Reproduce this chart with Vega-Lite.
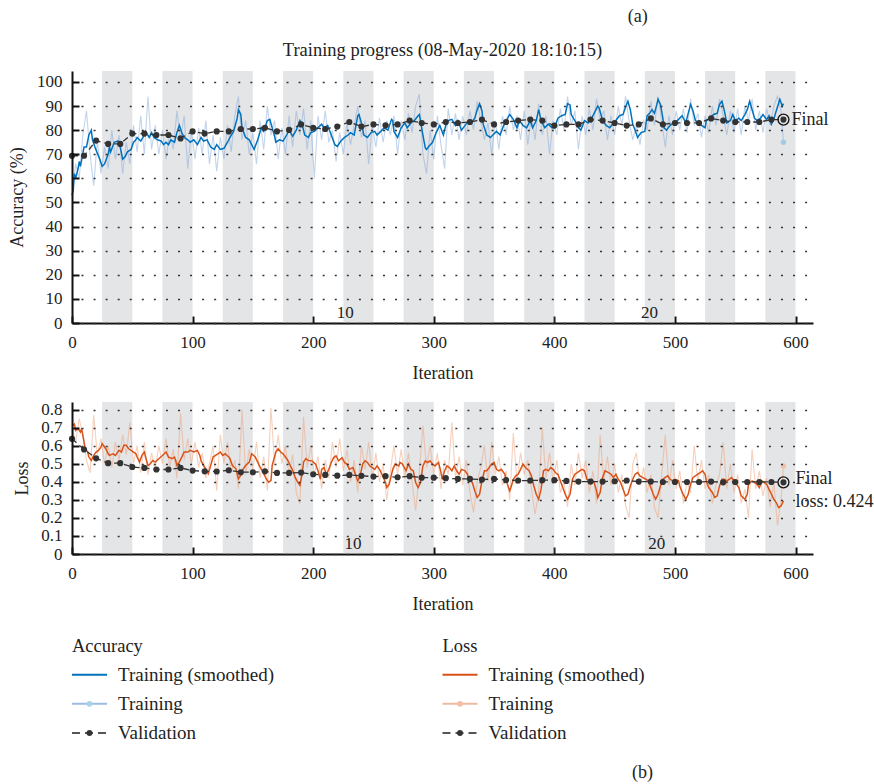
{
"$schema": "https://vega.github.io/schema/vega-lite/v6.json",
"padding": {"left": 8, "top": 7, "right": 0, "bottom": 0},
"background": "white",
"spacing": 17,
"title": {"text": "(a)", "anchor": "start", "dx": 619, "fontSize": 18, "fontWeight": "normal", "color": "#222", "offset": 15},
"config": {
  "font": "Liberation Serif",
  "view": {"stroke": null},
  "title": {"font": "Liberation Serif", "fontSize": 18, "fontWeight": "normal", "color": "#222"},
  "axis": {"domainColor": "#111", "domainWidth": 2, "tickColor": "#111", "tickWidth": 2, "tickSize": -7,
    "labelFont": "Liberation Serif", "labelFontSize": 17, "labelColor": "#222", "labelFlush": false, "labelOverlap": false,
    "titleFont": "Liberation Serif", "titleFontSize": 18, "titleFontWeight": "normal", "titleColor": "#222",
    "gridColor": "#333", "gridWidth": 1.6, "gridDash": [2, 10.06], "gridDashOffset": 3.06, "zindex": 1},
  "axisX": {"grid": false, "labelPadding": 18, "titlePadding": 14.3},
  "axisY": {"grid": true, "labelPadding": 17, "titlePadding": 9.7}
},
"datasets": {
  "bands": [{"i":25,"i2":50},{"i":75,"i2":100},{"i":125,"i2":150},{"i":175,"i2":200},{"i":225,"i2":250},{"i":275,"i2":300},{"i":325,"i2":350},{"i":375,"i2":400},{"i":425,"i2":450},{"i":475,"i2":500},{"i":525,"i2":550},{"i":575,"i2":600}],
  "epochsA": [{"i":226.6,"t":"10"},{"i":479,"t":"20"}],
  "epochsL": [{"i":233,"t":"10"},{"i":485,"t":"20"}],
  "accS": [{"i":0,"v":53},{"i":1,"v":55},{"i":2,"v":62},{"i":3,"v":60},{"i":5,"v":64},{"i":6,"v":67},{"i":7,"v":65},{"i":10,"v":73},{"i":12,"v":73},{"i":14,"v":78},{"i":16,"v":80},{"i":17,"v":76},{"i":19,"v":73},{"i":23,"v":68},{"i":25,"v":65},{"i":27,"v":66},{"i":30,"v":70},{"i":31,"v":73},{"i":32,"v":71},{"i":35,"v":75},{"i":38,"v":75.5},{"i":40,"v":73},{"i":42,"v":68},{"i":44,"v":69},{"i":46,"v":71},{"i":49,"v":72},{"i":51,"v":75},{"i":53,"v":76},{"i":54,"v":77},{"i":57,"v":75.5},{"i":60,"v":78},{"i":61,"v":79.5},{"i":64,"v":77},{"i":66,"v":79},{"i":68,"v":77},{"i":71,"v":76},{"i":74,"v":75.5},{"i":76,"v":74},{"i":78,"v":75},{"i":80,"v":74},{"i":82,"v":76},{"i":85,"v":75},{"i":87,"v":79},{"i":89,"v":82},{"i":91,"v":79},{"i":93,"v":77},{"i":96,"v":76},{"i":98,"v":75},{"i":101,"v":76},{"i":104,"v":74},{"i":107,"v":77},{"i":109,"v":75.5},{"i":112,"v":76},{"i":115,"v":73},{"i":118,"v":72},{"i":120,"v":74},{"i":123,"v":72},{"i":126,"v":72.5},{"i":129,"v":75},{"i":131,"v":77},{"i":134,"v":79.5},{"i":137,"v":85},{"i":138,"v":88.5},{"i":140,"v":86.5},{"i":141,"v":81},{"i":144,"v":77},{"i":147,"v":76},{"i":149,"v":74},{"i":151,"v":72},{"i":154,"v":76},{"i":157,"v":81},{"i":159,"v":79.5},{"i":162,"v":84},{"i":164,"v":84.5},{"i":166,"v":81},{"i":168,"v":77.5},{"i":169,"v":75},{"i":172,"v":76},{"i":175,"v":75.5},{"i":178,"v":78},{"i":180,"v":80},{"i":183,"v":77.5},{"i":186,"v":80},{"i":189,"v":84},{"i":191,"v":82},{"i":193,"v":78},{"i":196,"v":77},{"i":198,"v":79},{"i":201,"v":79.5},{"i":204,"v":81},{"i":207,"v":82.5},{"i":209,"v":81},{"i":212,"v":82},{"i":215,"v":78},{"i":218,"v":74},{"i":220,"v":73.3},{"i":223,"v":75.5},{"i":226,"v":77},{"i":229,"v":78},{"i":231,"v":79},{"i":234,"v":78},{"i":237,"v":86},{"i":238,"v":86.5},{"i":240,"v":83},{"i":242,"v":78},{"i":245,"v":77},{"i":248,"v":79},{"i":251,"v":79.5},{"i":253,"v":78},{"i":256,"v":79.5},{"i":259,"v":81},{"i":262,"v":80},{"i":265,"v":84.5},{"i":266,"v":84},{"i":267,"v":79.5},{"i":270,"v":77},{"i":273,"v":81},{"i":276,"v":83},{"i":278,"v":81},{"i":281,"v":83},{"i":284,"v":84},{"i":287,"v":86},{"i":288,"v":86.5},{"i":289,"v":84},{"i":291,"v":78},{"i":293,"v":72.6},{"i":294,"v":72},{"i":296,"v":73.3},{"i":299,"v":75},{"i":302,"v":79},{"i":305,"v":82},{"i":308,"v":78},{"i":310,"v":82},{"i":312,"v":84},{"i":315,"v":84.5},{"i":318,"v":82},{"i":320,"v":84},{"i":323,"v":80},{"i":326,"v":82},{"i":329,"v":84},{"i":331,"v":83},{"i":334,"v":85},{"i":336,"v":88.5},{"i":338,"v":91},{"i":340,"v":88},{"i":341,"v":82.5},{"i":344,"v":78},{"i":347,"v":77},{"i":349,"v":78},{"i":352,"v":79.5},{"i":355,"v":78},{"i":358,"v":82},{"i":360,"v":84},{"i":363,"v":86.5},{"i":366,"v":84.5},{"i":369,"v":81},{"i":371,"v":84},{"i":374,"v":82},{"i":377,"v":81},{"i":380,"v":84},{"i":382,"v":81},{"i":385,"v":84},{"i":387,"v":88.5},{"i":389,"v":84},{"i":392,"v":81},{"i":395,"v":82.5},{"i":398,"v":81},{"i":400,"v":81},{"i":403,"v":85},{"i":406,"v":86},{"i":409,"v":86.5},{"i":411,"v":91},{"i":413,"v":90.5},{"i":414,"v":86.5},{"i":417,"v":84},{"i":420,"v":81},{"i":422,"v":80},{"i":425,"v":84},{"i":428,"v":83},{"i":431,"v":85},{"i":433,"v":87},{"i":436,"v":90},{"i":437,"v":89.5},{"i":440,"v":84},{"i":443,"v":82},{"i":446,"v":81},{"i":449,"v":83},{"i":451,"v":84},{"i":454,"v":86},{"i":457,"v":86.5},{"i":459,"v":89.5},{"i":461,"v":92},{"i":463,"v":88.5},{"i":465,"v":82.5},{"i":467,"v":80},{"i":469,"v":77},{"i":472,"v":79},{"i":475,"v":79.5},{"i":477,"v":86},{"i":479,"v":87},{"i":481,"v":88.5},{"i":483,"v":87},{"i":485,"v":90.7},{"i":486,"v":92.8},{"i":488,"v":90.7},{"i":490,"v":85},{"i":491,"v":81},{"i":493,"v":80},{"i":496,"v":82},{"i":499,"v":83},{"i":502,"v":84},{"i":504,"v":85},{"i":506,"v":86},{"i":509,"v":83},{"i":511,"v":87},{"i":513,"v":90.7},{"i":515,"v":88},{"i":517,"v":84},{"i":520,"v":83},{"i":522,"v":82},{"i":525,"v":81},{"i":526,"v":84},{"i":529,"v":85},{"i":532,"v":86.5},{"i":535,"v":87},{"i":537,"v":90.7},{"i":539,"v":92},{"i":541,"v":88},{"i":543,"v":83},{"i":546,"v":84},{"i":548,"v":86.5},{"i":550,"v":84},{"i":553,"v":85},{"i":555,"v":84},{"i":558,"v":86.5},{"i":560,"v":88.5},{"i":562,"v":92},{"i":564,"v":88.5},{"i":566,"v":85},{"i":568,"v":84},{"i":571,"v":85},{"i":573,"v":86.5},{"i":576,"v":84.5},{"i":578,"v":86},{"i":580,"v":82.5},{"i":582,"v":84.5},{"i":584,"v":88},{"i":587,"v":92.8},{"i":589,"v":90},{"i":590,"v":91}],
  "accR": [{"i":0,"v":52},{"i":3,"v":66},{"i":6,"v":60},{"i":9,"v":78},{"i":12,"v":88},{"i":15,"v":70},{"i":18,"v":57},{"i":21,"v":76},{"i":24,"v":62},{"i":27,"v":73},{"i":30,"v":64},{"i":33,"v":80},{"i":36,"v":68},{"i":39,"v":78},{"i":42,"v":62},{"i":45,"v":75},{"i":48,"v":66},{"i":51,"v":82},{"i":54,"v":71},{"i":57,"v":86},{"i":60,"v":70},{"i":63,"v":94},{"i":66,"v":72},{"i":69,"v":82},{"i":72,"v":70},{"i":75,"v":80},{"i":78,"v":68},{"i":81,"v":79},{"i":84,"v":72},{"i":87,"v":88},{"i":90,"v":76},{"i":93,"v":86},{"i":96,"v":64},{"i":99,"v":80},{"i":102,"v":68},{"i":105,"v":81},{"i":108,"v":70},{"i":111,"v":84},{"i":114,"v":66},{"i":117,"v":78},{"i":120,"v":63},{"i":123,"v":77},{"i":126,"v":68},{"i":129,"v":82},{"i":132,"v":71},{"i":135,"v":86},{"i":138,"v":94},{"i":141,"v":76},{"i":144,"v":84},{"i":147,"v":70},{"i":150,"v":79},{"i":153,"v":66},{"i":156,"v":84},{"i":159,"v":72},{"i":162,"v":90},{"i":165,"v":78},{"i":168,"v":84},{"i":171,"v":68},{"i":174,"v":81},{"i":177,"v":70},{"i":180,"v":86},{"i":183,"v":73},{"i":186,"v":88},{"i":189,"v":78},{"i":192,"v":89},{"i":195,"v":72},{"i":198,"v":84},{"i":201,"v":60},{"i":204,"v":86},{"i":207,"v":76},{"i":210,"v":88},{"i":213,"v":75},{"i":216,"v":80},{"i":219,"v":67},{"i":222,"v":79},{"i":225,"v":70},{"i":228,"v":83},{"i":231,"v":74},{"i":234,"v":82},{"i":237,"v":90},{"i":240,"v":77},{"i":243,"v":84},{"i":246,"v":66},{"i":249,"v":82},{"i":252,"v":73},{"i":255,"v":85},{"i":258,"v":75},{"i":261,"v":84},{"i":264,"v":78},{"i":267,"v":86},{"i":270,"v":70},{"i":273,"v":84},{"i":276,"v":76},{"i":279,"v":87},{"i":282,"v":79},{"i":285,"v":90},{"i":288,"v":95},{"i":291,"v":70},{"i":294,"v":62},{"i":297,"v":80},{"i":300,"v":68},{"i":303,"v":86},{"i":306,"v":74},{"i":309,"v":64},{"i":312,"v":89},{"i":315,"v":78},{"i":318,"v":87},{"i":321,"v":76},{"i":324,"v":86},{"i":327,"v":78},{"i":330,"v":88},{"i":333,"v":80},{"i":336,"v":92},{"i":339,"v":84},{"i":342,"v":76},{"i":345,"v":83},{"i":348,"v":70},{"i":351,"v":84},{"i":354,"v":72},{"i":357,"v":86},{"i":360,"v":78},{"i":363,"v":90},{"i":366,"v":80},{"i":369,"v":86},{"i":372,"v":76},{"i":375,"v":88},{"i":378,"v":74},{"i":381,"v":86},{"i":384,"v":76},{"i":387,"v":91},{"i":390,"v":78},{"i":393,"v":86},{"i":396,"v":70},{"i":399,"v":84},{"i":402,"v":78},{"i":405,"v":89},{"i":408,"v":80},{"i":411,"v":94},{"i":414,"v":82},{"i":417,"v":88},{"i":420,"v":72},{"i":423,"v":86},{"i":426,"v":78},{"i":429,"v":89},{"i":432,"v":80},{"i":435,"v":93},{"i":438,"v":84},{"i":441,"v":88},{"i":444,"v":76},{"i":447,"v":86},{"i":450,"v":78},{"i":453,"v":90},{"i":456,"v":82},{"i":459,"v":94},{"i":462,"v":84},{"i":465,"v":76},{"i":468,"v":82},{"i":471,"v":74},{"i":474,"v":84},{"i":477,"v":80},{"i":480,"v":92},{"i":483,"v":82},{"i":486,"v":94},{"i":489,"v":84},{"i":492,"v":73},{"i":495,"v":86},{"i":498,"v":78},{"i":501,"v":88},{"i":504,"v":80},{"i":507,"v":89},{"i":510,"v":79},{"i":513,"v":93},{"i":516,"v":82},{"i":519,"v":87},{"i":522,"v":77},{"i":525,"v":86},{"i":528,"v":79},{"i":531,"v":90},{"i":534,"v":82},{"i":537,"v":93},{"i":540,"v":86},{"i":543,"v":78},{"i":546,"v":88},{"i":549,"v":79},{"i":552,"v":89},{"i":555,"v":78},{"i":558,"v":90},{"i":561,"v":84},{"i":564,"v":93},{"i":567,"v":80},{"i":570,"v":88},{"i":573,"v":79},{"i":576,"v":89},{"i":579,"v":82},{"i":582,"v":90},{"i":585,"v":94},{"i":588,"v":88},{"i":590,"v":75}],
  "accV": [{"i":0,"v":69.4},{"i":10,"v":69.4},{"i":20,"v":75.7},{"i":30,"v":74.3},{"i":40,"v":74.3},{"i":50,"v":78.6},{"i":60,"v":78.6},{"i":70,"v":78},{"i":80,"v":78},{"i":90,"v":76.6},{"i":100,"v":79.5},{"i":110,"v":78.6},{"i":120,"v":79.5},{"i":130,"v":79.5},{"i":140,"v":80.5},{"i":150,"v":80.5},{"i":160,"v":81},{"i":170,"v":79.5},{"i":180,"v":80.1},{"i":190,"v":82.4},{"i":200,"v":81},{"i":210,"v":80.5},{"i":220,"v":81.5},{"i":230,"v":83.4},{"i":240,"v":81.5},{"i":250,"v":82.4},{"i":260,"v":82},{"i":270,"v":82.4},{"i":280,"v":84},{"i":290,"v":83},{"i":300,"v":82.4},{"i":310,"v":83.4},{"i":320,"v":83},{"i":330,"v":83.4},{"i":340,"v":84.4},{"i":350,"v":82.4},{"i":360,"v":83.4},{"i":370,"v":84},{"i":380,"v":84.4},{"i":390,"v":84},{"i":400,"v":81.9},{"i":410,"v":82.4},{"i":420,"v":82.4},{"i":430,"v":84.4},{"i":440,"v":84},{"i":450,"v":83},{"i":460,"v":81.9},{"i":470,"v":82.4},{"i":480,"v":84.9},{"i":490,"v":82.4},{"i":500,"v":83},{"i":510,"v":83},{"i":520,"v":83},{"i":530,"v":84.9},{"i":540,"v":84},{"i":550,"v":83.4},{"i":560,"v":83.4},{"i":570,"v":83.4},{"i":580,"v":84.4},{"i":590,"v":84.4}],
  "lossS": [{"i":0,"v":0.71},{"i":2,"v":0.72},{"i":3,"v":0.685},{"i":5,"v":0.695},{"i":7,"v":0.675},{"i":8,"v":0.695},{"i":9,"v":0.657},{"i":11,"v":0.583},{"i":13,"v":0.565},{"i":14,"v":0.537},{"i":16,"v":0.518},{"i":18,"v":0.546},{"i":20,"v":0.565},{"i":22,"v":0.574},{"i":24,"v":0.592},{"i":25,"v":0.611},{"i":28,"v":0.583},{"i":30,"v":0.555},{"i":31,"v":0.546},{"i":34,"v":0.555},{"i":36,"v":0.546},{"i":39,"v":0.574},{"i":41,"v":0.565},{"i":43,"v":0.602},{"i":45,"v":0.602},{"i":47,"v":0.583},{"i":49,"v":0.574},{"i":51,"v":0.565},{"i":53,"v":0.555},{"i":54,"v":0.537},{"i":56,"v":0.509},{"i":58,"v":0.546},{"i":60,"v":0.565},{"i":61,"v":0.537},{"i":63,"v":0.49},{"i":65,"v":0.5},{"i":67,"v":0.518},{"i":69,"v":0.509},{"i":72,"v":0.528},{"i":75,"v":0.546},{"i":78,"v":0.565},{"i":80,"v":0.537},{"i":83,"v":0.528},{"i":85,"v":0.537},{"i":86,"v":0.518},{"i":87,"v":0.49},{"i":89,"v":0.509},{"i":91,"v":0.537},{"i":93,"v":0.565},{"i":96,"v":0.565},{"i":98,"v":0.574},{"i":101,"v":0.565},{"i":104,"v":0.574},{"i":106,"v":0.546},{"i":107,"v":0.518},{"i":109,"v":0.49},{"i":111,"v":0.472},{"i":113,"v":0.445},{"i":115,"v":0.49},{"i":117,"v":0.537},{"i":119,"v":0.546},{"i":121,"v":0.555},{"i":123,"v":0.565},{"i":125,"v":0.546},{"i":127,"v":0.555},{"i":130,"v":0.537},{"i":131,"v":0.528},{"i":133,"v":0.49},{"i":136,"v":0.472},{"i":138,"v":0.417},{"i":140,"v":0.435},{"i":142,"v":0.472},{"i":144,"v":0.49},{"i":147,"v":0.509},{"i":149,"v":0.555},{"i":152,"v":0.537},{"i":154,"v":0.509},{"i":156,"v":0.481},{"i":159,"v":0.445},{"i":161,"v":0.417},{"i":163,"v":0.398},{"i":165,"v":0.407},{"i":166,"v":0.49},{"i":169,"v":0.565},{"i":171,"v":0.583},{"i":173,"v":0.565},{"i":175,"v":0.555},{"i":177,"v":0.537},{"i":179,"v":0.518},{"i":181,"v":0.49},{"i":183,"v":0.463},{"i":185,"v":0.426},{"i":187,"v":0.4},{"i":189,"v":0.38},{"i":191,"v":0.45},{"i":192,"v":0.509},{"i":194,"v":0.528},{"i":196,"v":0.518},{"i":199,"v":0.516},{"i":202,"v":0.498},{"i":204,"v":0.461},{"i":206,"v":0.414},{"i":207,"v":0.469},{"i":209,"v":0.479},{"i":211,"v":0.442},{"i":213,"v":0.469},{"i":215,"v":0.507},{"i":217,"v":0.534},{"i":219,"v":0.544},{"i":221,"v":0.516},{"i":224,"v":0.534},{"i":226,"v":0.507},{"i":228,"v":0.498},{"i":230,"v":0.469},{"i":233,"v":0.479},{"i":235,"v":0.442},{"i":237,"v":0.405},{"i":239,"v":0.433},{"i":241,"v":0.498},{"i":243,"v":0.516},{"i":245,"v":0.507},{"i":247,"v":0.488},{"i":249,"v":0.479},{"i":251,"v":0.469},{"i":253,"v":0.488},{"i":255,"v":0.469},{"i":257,"v":0.442},{"i":260,"v":0.396},{"i":261,"v":0.368},{"i":263,"v":0.386},{"i":266,"v":0.469},{"i":268,"v":0.498},{"i":271,"v":0.488},{"i":272,"v":0.507},{"i":274,"v":0.498},{"i":277,"v":0.461},{"i":279,"v":0.498},{"i":281,"v":0.469},{"i":283,"v":0.461},{"i":285,"v":0.396},{"i":287,"v":0.368},{"i":289,"v":0.396},{"i":291,"v":0.488},{"i":293,"v":0.516},{"i":295,"v":0.507},{"i":297,"v":0.516},{"i":299,"v":0.498},{"i":301,"v":0.488},{"i":304,"v":0.507},{"i":306,"v":0.451},{"i":307,"v":0.414},{"i":309,"v":0.461},{"i":311,"v":0.488},{"i":313,"v":0.479},{"i":315,"v":0.461},{"i":317,"v":0.488},{"i":319,"v":0.461},{"i":321,"v":0.442},{"i":323,"v":0.469},{"i":326,"v":0.461},{"i":328,"v":0.442},{"i":329,"v":0.414},{"i":332,"v":0.396},{"i":334,"v":0.35},{"i":336,"v":0.313},{"i":338,"v":0.331},{"i":340,"v":0.405},{"i":342,"v":0.461},{"i":344,"v":0.461},{"i":346,"v":0.479},{"i":348,"v":0.498},{"i":350,"v":0.507},{"i":352,"v":0.469},{"i":354,"v":0.461},{"i":356,"v":0.469},{"i":359,"v":0.442},{"i":361,"v":0.387},{"i":363,"v":0.35},{"i":364,"v":0.368},{"i":366,"v":0.414},{"i":368,"v":0.433},{"i":370,"v":0.442},{"i":372,"v":0.469},{"i":374,"v":0.498},{"i":376,"v":0.479},{"i":379,"v":0.461},{"i":381,"v":0.433},{"i":383,"v":0.377},{"i":385,"v":0.331},{"i":387,"v":0.303},{"i":389,"v":0.359},{"i":391,"v":0.461},{"i":393,"v":0.469},{"i":395,"v":0.461},{"i":397,"v":0.479},{"i":399,"v":0.469},{"i":401,"v":0.45},{"i":403,"v":0.44},{"i":405,"v":0.405},{"i":407,"v":0.368},{"i":409,"v":0.331},{"i":411,"v":0.303},{"i":413,"v":0.331},{"i":415,"v":0.414},{"i":417,"v":0.442},{"i":419,"v":0.451},{"i":421,"v":0.461},{"i":423,"v":0.469},{"i":425,"v":0.461},{"i":427,"v":0.414},{"i":429,"v":0.405},{"i":431,"v":0.414},{"i":433,"v":0.396},{"i":435,"v":0.35},{"i":436,"v":0.313},{"i":438,"v":0.341},{"i":440,"v":0.424},{"i":442,"v":0.461},{"i":445,"v":0.451},{"i":447,"v":0.442},{"i":449,"v":0.424},{"i":451,"v":0.442},{"i":453,"v":0.414},{"i":455,"v":0.396},{"i":457,"v":0.359},{"i":459,"v":0.322},{"i":461,"v":0.331},{"i":463,"v":0.377},{"i":465,"v":0.414},{"i":467,"v":0.442},{"i":469,"v":0.451},{"i":471,"v":0.433},{"i":473,"v":0.424},{"i":476,"v":0.414},{"i":478,"v":0.405},{"i":480,"v":0.368},{"i":482,"v":0.331},{"i":484,"v":0.303},{"i":486,"v":0.331},{"i":488,"v":0.377},{"i":490,"v":0.414},{"i":492,"v":0.424},{"i":494,"v":0.433},{"i":496,"v":0.414},{"i":498,"v":0.405},{"i":500,"v":0.414},{"i":503,"v":0.405},{"i":504,"v":0.377},{"i":506,"v":0.341},{"i":509,"v":0.303},{"i":511,"v":0.331},{"i":513,"v":0.387},{"i":515,"v":0.424},{"i":517,"v":0.433},{"i":519,"v":0.442},{"i":521,"v":0.451},{"i":523,"v":0.461},{"i":525,"v":0.442},{"i":526,"v":0.405},{"i":528,"v":0.368},{"i":531,"v":0.341},{"i":533,"v":0.313},{"i":535,"v":0.322},{"i":537,"v":0.377},{"i":539,"v":0.414},{"i":541,"v":0.414},{"i":543,"v":0.405},{"i":545,"v":0.414},{"i":547,"v":0.424},{"i":549,"v":0.405},{"i":551,"v":0.387},{"i":553,"v":0.368},{"i":555,"v":0.322},{"i":558,"v":0.303},{"i":560,"v":0.331},{"i":561,"v":0.387},{"i":564,"v":0.405},{"i":566,"v":0.396},{"i":568,"v":0.387},{"i":570,"v":0.368},{"i":572,"v":0.405},{"i":574,"v":0.396},{"i":576,"v":0.387},{"i":578,"v":0.359},{"i":580,"v":0.331},{"i":582,"v":0.303},{"i":584,"v":0.285},{"i":586,"v":0.257},{"i":588,"v":0.266},{"i":590,"v":0.294}],
  "lossR": [{"i":0,"v":0.7},{"i":3,"v":0.62},{"i":6,"v":0.75},{"i":9,"v":0.66},{"i":12,"v":0.52},{"i":15,"v":0.45},{"i":18,"v":0.77},{"i":21,"v":0.55},{"i":24,"v":0.64},{"i":27,"v":0.5},{"i":30,"v":0.6},{"i":33,"v":0.48},{"i":36,"v":0.62},{"i":39,"v":0.52},{"i":42,"v":0.66},{"i":45,"v":0.55},{"i":48,"v":0.73},{"i":51,"v":0.5},{"i":54,"v":0.6},{"i":57,"v":0.45},{"i":60,"v":0.62},{"i":63,"v":0.44},{"i":66,"v":0.56},{"i":69,"v":0.47},{"i":72,"v":0.6},{"i":75,"v":0.5},{"i":78,"v":0.64},{"i":81,"v":0.48},{"i":84,"v":0.58},{"i":87,"v":0.42},{"i":90,"v":0.78},{"i":93,"v":0.52},{"i":96,"v":0.64},{"i":99,"v":0.5},{"i":102,"v":0.62},{"i":105,"v":0.48},{"i":108,"v":0.56},{"i":111,"v":0.42},{"i":114,"v":0.5},{"i":117,"v":0.6},{"i":120,"v":0.35},{"i":123,"v":0.66},{"i":126,"v":0.5},{"i":129,"v":0.62},{"i":132,"v":0.45},{"i":135,"v":0.52},{"i":138,"v":0.36},{"i":141,"v":0.8},{"i":144,"v":0.44},{"i":147,"v":0.58},{"i":150,"v":0.47},{"i":153,"v":0.62},{"i":156,"v":0.42},{"i":159,"v":0.54},{"i":162,"v":0.35},{"i":165,"v":0.81},{"i":168,"v":0.5},{"i":171,"v":0.66},{"i":174,"v":0.5},{"i":177,"v":0.6},{"i":180,"v":0.44},{"i":183,"v":0.55},{"i":186,"v":0.34},{"i":189,"v":0.28},{"i":192,"v":0.76},{"i":195,"v":0.48},{"i":198,"v":0.6},{"i":201,"v":0.44},{"i":204,"v":0.54},{"i":207,"v":0.36},{"i":210,"v":0.52},{"i":213,"v":0.42},{"i":216,"v":0.62},{"i":219,"v":0.48},{"i":222,"v":0.64},{"i":225,"v":0.46},{"i":228,"v":0.58},{"i":231,"v":0.4},{"i":234,"v":0.52},{"i":237,"v":0.34},{"i":240,"v":0.6},{"i":243,"v":0.47},{"i":246,"v":0.62},{"i":249,"v":0.42},{"i":252,"v":0.56},{"i":255,"v":0.4},{"i":258,"v":0.5},{"i":261,"v":0.3},{"i":264,"v":0.46},{"i":267,"v":0.6},{"i":270,"v":0.44},{"i":273,"v":0.58},{"i":276,"v":0.42},{"i":279,"v":0.56},{"i":282,"v":0.4},{"i":285,"v":0.24},{"i":288,"v":0.45},{"i":291,"v":0.71},{"i":294,"v":0.48},{"i":297,"v":0.6},{"i":300,"v":0.44},{"i":303,"v":0.56},{"i":306,"v":0.36},{"i":309,"v":0.52},{"i":312,"v":0.44},{"i":315,"v":0.73},{"i":318,"v":0.42},{"i":321,"v":0.54},{"i":324,"v":0.38},{"i":327,"v":0.52},{"i":330,"v":0.34},{"i":333,"v":0.23},{"i":336,"v":0.4},{"i":339,"v":0.48},{"i":342,"v":0.6},{"i":345,"v":0.4},{"i":348,"v":0.62},{"i":351,"v":0.44},{"i":354,"v":0.54},{"i":357,"v":0.38},{"i":360,"v":0.46},{"i":363,"v":0.3},{"i":366,"v":0.67},{"i":369,"v":0.4},{"i":372,"v":0.56},{"i":375,"v":0.44},{"i":378,"v":0.52},{"i":381,"v":0.36},{"i":384,"v":0.22},{"i":387,"v":0.34},{"i":390,"v":0.7},{"i":393,"v":0.42},{"i":396,"v":0.56},{"i":399,"v":0.4},{"i":402,"v":0.52},{"i":405,"v":0.34},{"i":408,"v":0.4},{"i":411,"v":0.26},{"i":414,"v":0.5},{"i":417,"v":0.38},{"i":420,"v":0.56},{"i":423,"v":0.42},{"i":426,"v":0.52},{"i":429,"v":0.34},{"i":432,"v":0.46},{"i":435,"v":0.28},{"i":438,"v":0.66},{"i":441,"v":0.4},{"i":444,"v":0.54},{"i":447,"v":0.38},{"i":450,"v":0.5},{"i":453,"v":0.34},{"i":456,"v":0.44},{"i":459,"v":0.27},{"i":462,"v":0.2},{"i":465,"v":0.5},{"i":468,"v":0.56},{"i":471,"v":0.38},{"i":474,"v":0.48},{"i":477,"v":0.34},{"i":480,"v":0.44},{"i":483,"v":0.26},{"i":486,"v":0.2},{"i":489,"v":0.44},{"i":492,"v":0.66},{"i":495,"v":0.38},{"i":498,"v":0.52},{"i":501,"v":0.36},{"i":504,"v":0.46},{"i":507,"v":0.28},{"i":510,"v":0.4},{"i":513,"v":0.34},{"i":516,"v":0.6},{"i":519,"v":0.4},{"i":522,"v":0.52},{"i":525,"v":0.36},{"i":528,"v":0.44},{"i":531,"v":0.28},{"i":534,"v":0.38},{"i":537,"v":0.44},{"i":540,"v":0.62},{"i":543,"v":0.36},{"i":546,"v":0.5},{"i":549,"v":0.34},{"i":552,"v":0.44},{"i":555,"v":0.28},{"i":558,"v":0.36},{"i":561,"v":0.2},{"i":564,"v":0.58},{"i":567,"v":0.36},{"i":570,"v":0.46},{"i":573,"v":0.32},{"i":576,"v":0.42},{"i":579,"v":0.26},{"i":582,"v":0.4},{"i":585,"v":0.16},{"i":588,"v":0.3},{"i":590,"v":0.488}],
  "lossV": [{"i":0,"v":0.638},{"i":10,"v":0.579},{"i":20,"v":0.53},{"i":30,"v":0.503},{"i":40,"v":0.503},{"i":50,"v":0.482},{"i":60,"v":0.477},{"i":70,"v":0.468},{"i":80,"v":0.468},{"i":90,"v":0.477},{"i":100,"v":0.462},{"i":110,"v":0.458},{"i":120,"v":0.457},{"i":130,"v":0.464},{"i":140,"v":0.453},{"i":150,"v":0.453},{"i":160,"v":0.458},{"i":170,"v":0.449},{"i":180,"v":0.449},{"i":190,"v":0.451},{"i":200,"v":0.442},{"i":210,"v":0.438},{"i":220,"v":0.434},{"i":230,"v":0.438},{"i":240,"v":0.433},{"i":250,"v":0.429},{"i":260,"v":0.431},{"i":270,"v":0.425},{"i":280,"v":0.431},{"i":290,"v":0.423},{"i":300,"v":0.423},{"i":310,"v":0.42},{"i":320,"v":0.416},{"i":330,"v":0.416},{"i":340,"v":0.412},{"i":350,"v":0.416},{"i":360,"v":0.41},{"i":370,"v":0.407},{"i":380,"v":0.407},{"i":390,"v":0.409},{"i":400,"v":0.409},{"i":410,"v":0.405},{"i":420,"v":0.401},{"i":430,"v":0.401},{"i":440,"v":0.401},{"i":450,"v":0.403},{"i":460,"v":0.407},{"i":470,"v":0.401},{"i":480,"v":0.401},{"i":490,"v":0.399},{"i":500,"v":0.399},{"i":510,"v":0.399},{"i":520,"v":0.399},{"i":530,"v":0.401},{"i":540,"v":0.397},{"i":550,"v":0.399},{"i":560,"v":0.399},{"i":570,"v":0.399},{"i":580,"v":0.399},{"i":590,"v":0.397}],
  "leg": [{"c":0,"r":0,"s":"aT","t":"Accuracy"},{"c":0,"r":1,"s":"aS","t":"Training (smoothed)"},{"c":0,"r":2,"s":"aR","t":"Training"},{"c":0,"r":3,"s":"aV","t":"Validation"},{"c":1,"r":0,"s":"lT","t":"Loss"},{"c":1,"r":1,"s":"lS","t":"Training (smoothed)"},{"c":1,"r":2,"s":"lR","t":"Training"},{"c":1,"r":3,"s":"lV","t":"Validation"}]
},
"vconcat": [
  {
    "width": 741, "height": 252,
    "title": {"text": "Training progress (08-May-2020 18:10:15)", "frame": "group", "anchor": "middle", "offset": 12, "fontSize": 18.5},
    "encoding": {
      "x": {"field": "i", "type": "quantitative", "title": "Iteration", "scale": {"domain": [0, 614.5], "nice": false, "zero": false}, "axis": {"values": [0,100,200,300,400,500,600], "title": "Iteration"}}
    },
    "layer": [
      {"data": {"name": "bands"}, "mark": {"type": "rect", "color": "#b1b5ba", "opacity": 0.35}, "encoding": {"x2": {"field": "i2"}}},
      {"data": {"name": "accR"}, "mark": {"type": "line", "color": "#86a9d9", "opacity": 0.5, "strokeWidth": 1.1}, "encoding": {"y": {"field": "v", "type": "quantitative", "title": "Accuracy (%)", "scale": {"domain": [0, 104.56], "nice": false}, "axis": {"values": [0,10,20,30,40,50,60,70,80,90,100], "title": "Accuracy (%)", "zindex": 1}}}},
      {"data": {"name": "accS"}, "mark": {"type": "line", "color": "#0072bd", "strokeWidth": 1.5}, "encoding": {"y": {"field": "v", "type": "quantitative", "title": "Accuracy (%)", "scale": {"domain": [0, 104.56], "nice": false}, "axis": {"values": [0,10,20,30,40,50,60,70,80,90,100], "title": "Accuracy (%)", "zindex": 1}}}},
      {"data": {"name": "accV"}, "mark": {"type": "line", "color": "#333333", "strokeWidth": 1.3, "strokeDash": [6, 4]}, "encoding": {"y": {"field": "v", "type": "quantitative", "title": "Accuracy (%)", "scale": {"domain": [0, 104.56], "nice": false}, "axis": {"values": [0,10,20,30,40,50,60,70,80,90,100], "title": "Accuracy (%)", "zindex": 1}}}},
      {"data": {"name": "accV"}, "mark": {"type": "circle", "color": "#333333", "opacity": 1, "size": 38}, "encoding": {"y": {"field": "v", "type": "quantitative", "title": "Accuracy (%)", "scale": {"domain": [0, 104.56], "nice": false}, "axis": {"values": [0,10,20,30,40,50,60,70,80,90,100], "title": "Accuracy (%)", "zindex": 1}}}},
      {"data": {"name": "accR"}, "transform": [{"filter": "datum.i == 590"}], "mark": {"type": "circle", "color": "#9fcbe6", "opacity": 1, "size": 28}, "encoding": {"y": {"field": "v", "type": "quantitative", "title": "Accuracy (%)", "scale": {"domain": [0, 104.56], "nice": false}, "axis": {"values": [0,10,20,30,40,50,60,70,80,90,100], "title": "Accuracy (%)", "zindex": 1}}}},
      {"data": {"name": "accV"}, "transform": [{"filter": "datum.i == 590"}], "mark": {"type": "point", "shape": "circle", "filled": false, "stroke": "#111", "strokeWidth": 1.3, "opacity": 1, "size": 120}, "encoding": {"y": {"field": "v", "type": "quantitative", "title": "Accuracy (%)", "scale": {"domain": [0, 104.56], "nice": false}, "axis": {"values": [0,10,20,30,40,50,60,70,80,90,100], "title": "Accuracy (%)", "zindex": 1}}}},
      {"data": {"name": "accV"}, "transform": [{"filter": "datum.i == 590"}], "mark": {"type": "text", "text": "Final", "align": "left", "baseline": "middle", "dx": 8, "fontSize": 18, "color": "#222"}, "encoding": {"y": {"field": "v", "type": "quantitative", "title": "Accuracy (%)", "scale": {"domain": [0, 104.56], "nice": false}, "axis": {"values": [0,10,20,30,40,50,60,70,80,90,100], "title": "Accuracy (%)", "zindex": 1}}}},
      {"data": {"name": "epochsA"}, "mark": {"type": "text", "baseline": "alphabetic", "dy": -5, "fontSize": 17, "color": "#222"}, "encoding": {"text": {"field": "t"}, "y": {"datum": 0, "type": "quantitative", "title": "Accuracy (%)", "scale": {"domain": [0, 104.56], "nice": false}, "axis": {"values": [0,10,20,30,40,50,60,70,80,90,100], "title": "Accuracy (%)", "zindex": 1}}}}
    ]
  },
  {
    "width": 741, "height": 152,
    "encoding": {
      "x": {"field": "i", "type": "quantitative", "title": "Iteration", "scale": {"domain": [0, 614.5], "nice": false, "zero": false}, "axis": {"values": [0,100,200,300,400,500,600], "title": "Iteration"}}
    },
    "layer": [
      {"data": {"name": "bands"}, "mark": {"type": "rect", "color": "#b1b5ba", "opacity": 0.35}, "encoding": {"x2": {"field": "i2"}}},
      {"data": {"name": "lossR"}, "mark": {"type": "line", "color": "#eda27a", "opacity": 0.5, "strokeWidth": 1.1}, "encoding": {"y": {"field": "v", "type": "quantitative", "title": "Loss", "scale": {"domain": [0, 0.842], "nice": false}, "axis": {"values": [0,0.1,0.2,0.3,0.4,0.5,0.6,0.7,0.8], "format": ".1~f", "title": "Loss", "zindex": 1}}}},
      {"data": {"name": "lossS"}, "mark": {"type": "line", "color": "#d95319", "strokeWidth": 1.5}, "encoding": {"y": {"field": "v", "type": "quantitative", "title": "Loss", "scale": {"domain": [0, 0.842], "nice": false}, "axis": {"values": [0,0.1,0.2,0.3,0.4,0.5,0.6,0.7,0.8], "format": ".1~f", "title": "Loss", "zindex": 1}}}},
      {"data": {"name": "lossV"}, "mark": {"type": "line", "color": "#333333", "strokeWidth": 1.3, "strokeDash": [6, 4]}, "encoding": {"y": {"field": "v", "type": "quantitative", "title": "Loss", "scale": {"domain": [0, 0.842], "nice": false}, "axis": {"values": [0,0.1,0.2,0.3,0.4,0.5,0.6,0.7,0.8], "format": ".1~f", "title": "Loss", "zindex": 1}}}},
      {"data": {"name": "lossV"}, "mark": {"type": "circle", "color": "#333333", "opacity": 1, "size": 38}, "encoding": {"y": {"field": "v", "type": "quantitative", "title": "Loss", "scale": {"domain": [0, 0.842], "nice": false}, "axis": {"values": [0,0.1,0.2,0.3,0.4,0.5,0.6,0.7,0.8], "format": ".1~f", "title": "Loss", "zindex": 1}}}},
      {"data": {"name": "lossR"}, "transform": [{"filter": "datum.i == 590"}], "mark": {"type": "circle", "color": "#f5bfa3", "opacity": 1, "size": 28}, "encoding": {"y": {"field": "v", "type": "quantitative", "title": "Loss", "scale": {"domain": [0, 0.842], "nice": false}, "axis": {"values": [0,0.1,0.2,0.3,0.4,0.5,0.6,0.7,0.8], "format": ".1~f", "title": "Loss", "zindex": 1}}}},
      {"data": {"name": "lossV"}, "transform": [{"filter": "datum.i == 590"}], "mark": {"type": "point", "shape": "circle", "filled": false, "stroke": "#111", "strokeWidth": 1.3, "opacity": 1, "size": 120}, "encoding": {"y": {"field": "v", "type": "quantitative", "title": "Loss", "scale": {"domain": [0, 0.842], "nice": false}, "axis": {"values": [0,0.1,0.2,0.3,0.4,0.5,0.6,0.7,0.8], "format": ".1~f", "title": "Loss", "zindex": 1}}}},
      {"data": {"name": "lossV"}, "transform": [{"filter": "datum.i == 590"}], "mark": {"type": "text", "text": ["Final", "loss: 0.424"], "lineHeight": 23, "align": "left", "baseline": "alphabetic", "dx": 12, "dy": 2, "fontSize": 18, "color": "#222"}, "encoding": {"y": {"field": "v", "type": "quantitative", "title": "Loss", "scale": {"domain": [0, 0.842], "nice": false}, "axis": {"values": [0,0.1,0.2,0.3,0.4,0.5,0.6,0.7,0.8], "format": ".1~f", "title": "Loss", "zindex": 1}}}},
      {"data": {"name": "epochsL"}, "mark": {"type": "text", "baseline": "alphabetic", "dy": -5, "fontSize": 17, "color": "#222"}, "encoding": {"text": {"field": "t"}, "y": {"datum": 0, "type": "quantitative", "title": "Loss", "scale": {"domain": [0, 0.842], "nice": false}, "axis": {"values": [0,0.1,0.2,0.3,0.4,0.5,0.6,0.7,0.8], "format": ".1~f", "title": "Loss", "zindex": 1}}}}
    ]
  },
  {
    "width": 741, "height": 102,
    "data": {"name": "leg"},
    "title": {"text": "(b)", "orient": "bottom", "anchor": "start", "frame": "group", "dx": 560, "offset": 21},
    "encoding": {
      "x": {"field": "c", "type": "quantitative", "scale": {"domain": [0, 2]}, "axis": null},
      "y": {"field": "r", "type": "quantitative", "scale": {"domain": [3, -0.5]}, "axis": null}
    },
    "layer": [
      {"transform": [{"filter": "datum.r == 0"}], "mark": {"type": "text", "align": "left", "baseline": "middle", "fontSize": 18.5, "color": "#222"}, "encoding": {"text": {"field": "t"}}},
      {"transform": [{"filter": "datum.r > 0"}], "mark": {"type": "rule", "strokeWidth": 2, "x2Offset": 35},
       "encoding": {"x2": {"field": "c"},
         "color": {"condition": [{"test": "datum.s == 'aS'", "value": "#0072bd"}, {"test": "datum.s == 'aR'", "value": "#9dbbe0"}, {"test": "datum.s == 'lS'", "value": "#d95319"}, {"test": "datum.s == 'lR'", "value": "#efb9a0"}], "value": "#555555"},
         "strokeDash": {"condition": {"test": "datum.s == 'aV' || datum.s == 'lV'", "value": [8, 5]}, "value": [1, 0]}}},
      {"transform": [{"filter": "datum.r > 1"}], "mark": {"type": "circle", "xOffset": 17.5, "size": 34, "opacity": 1},
       "encoding": {"color": {"condition": [{"test": "datum.s == 'aR'", "value": "#a9d3ea"}, {"test": "datum.s == 'lR'", "value": "#f3bea4"}], "value": "#333333"}}},
      {"transform": [{"filter": "datum.r > 0"}], "mark": {"type": "text", "align": "left", "baseline": "middle", "dx": 46, "fontSize": 19, "color": "#222"}, "encoding": {"text": {"field": "t"}}}
    ]
  }
]
}
